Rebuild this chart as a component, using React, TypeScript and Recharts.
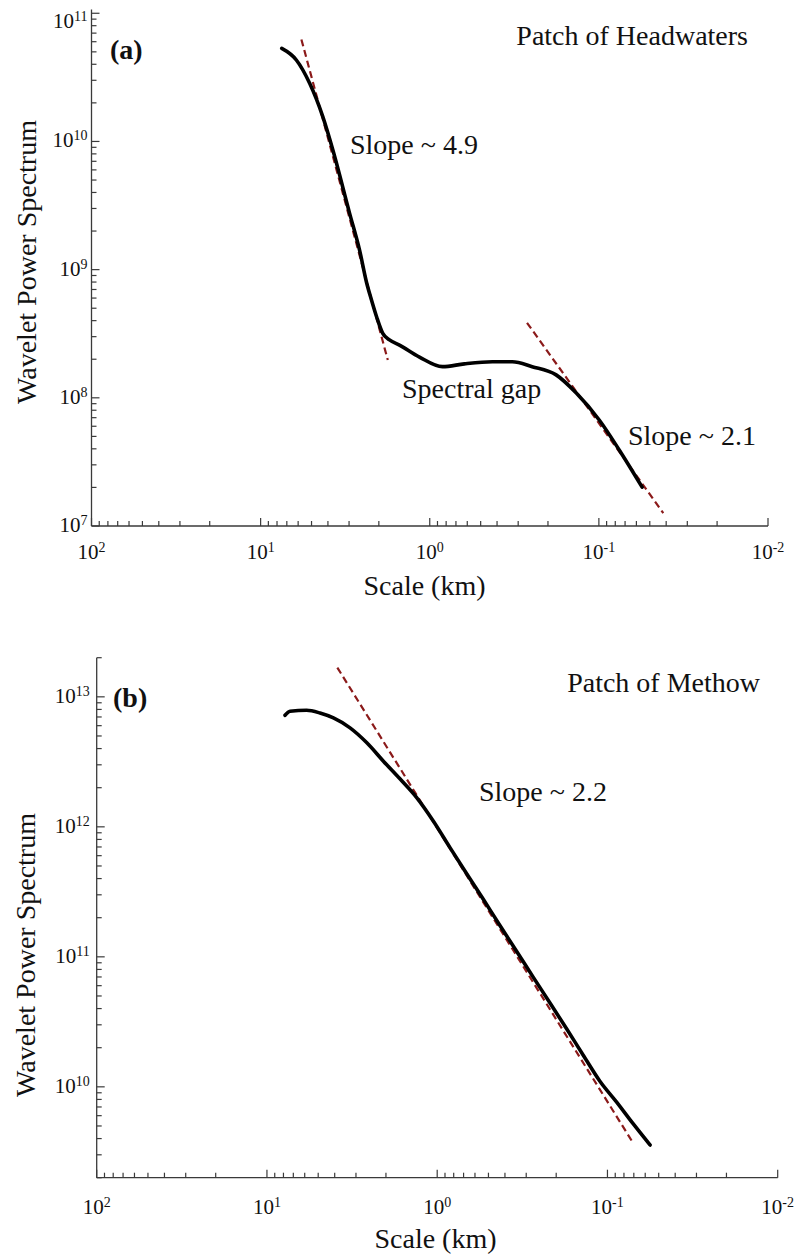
import React from 'react';
import { ComposedChart, Line, XAxis, YAxis } from 'recharts';

const FONT = "'Liberation Serif', 'Times New Roman', 'DejaVu Serif', serif";
const INK = '#111';
const FRAME = '#3a3a3a';
const FIT = '#8b1a1a';

// panel (a): Patch of Headwaters
const scaleA = [7.5, 6.15, 5.13, 4.29, 3.74, 2.98, 2.6, 2.36, 2.21, 2.06, 1.9, 1.73, 1.51, 1.15, 0.841, 0.624, 0.426, 0.325, 0.248, 0.179, 0.136, 0.0995, 0.0758, 0.0555];
const powerA = [5.32e10, 4.32e10, 2.84e10, 1.56e10, 8.57e9, 2.76e9, 1.42e9, 7.87e8, 5.79e8, 4.27e8, 3.2e8, 2.83e8, 2.58e8, 2.08e8, 1.75e8, 1.84e8, 1.91e8, 1.91e8, 1.75e8, 1.51e8, 1.09e8, 6.71e7, 3.92e7, 2.01e7];
const fitA1Scale = [5.74, 1.77];
const fitA1Power = [6.25e10, 1.97e8];
const fitA2Scale = [0.266, 0.0416];
const fitA2Power = [3.85e8, 1.26e7];

// panel (b): Patch of Methow
const scaleB = [7.83, 7.32, 5.85, 4.88, 4.07, 3.25, 2.59, 2.07, 1.65, 1.32, 1.05, 0.841, 0.671, 0.536, 0.428, 0.341, 0.273, 0.217, 0.173, 0.139, 0.111, 0.0883, 0.0705, 0.0562];
const powerB = [7.21e12, 7.74e12, 7.88e12, 7.51e12, 6.88e12, 5.77e12, 4.43e12, 3.2e12, 2.33e12, 1.68e12, 1.1e12, 6.92e11, 4.36e11, 2.77e11, 1.74e11, 1.1e11, 6.98e10, 4.4e10, 2.77e10, 1.76e10, 1.11e10, 7.63e9, 5.18e9, 3.57e9];
const fitBScale = [3.86, 0.0714];
const fitBPower = [1.68e13, 3.78e9];

// axes
const xDecades = [100, 10, 1, 0.1, 0.01];
const xDecadeExp = ['2', '1', '0', '-1', '-2'];
const yDecadesA = [1e7, 1e8, 1e9, 1e10, 1e11];
const yDecadeExpA = ['7', '8', '9', '10', '11'];
const yDecadesB = [1e9, 1e10, 1e11, 1e12, 1e13];
const yDecadeExpB = ['9', '10', '11', '12', '13'];
const minorSteps = [2, 3, 4, 5, 6, 7, 8, 9];

const zip = (xs: number[], ys: number[]) => xs.map((x, i) => ({ x, y: ys[i] }));

const withMinors = (decades: number[], lo: number, hi: number) => {
  const out: number[] = [];
  decades.forEach(d => {
    out.push(d);
    minorSteps.forEach(m => out.push(d * m));
  });
  return out.filter(v => v >= lo * 0.999 && v <= hi * 1.001).sort((a, b) => a - b);
};

const labelFor = (v: number, decades: number[], exps: string[]) => {
  const i = decades.findIndex(d => Math.abs(d - v) / d < 1e-6);
  return i < 0 ? null : exps[i];
};

const XTick = (props: any) => {
  const { x, y, payload, side, labelDy } = props;
  const exp = labelFor(payload.value, xDecades, xDecadeExp);
  const len = exp ? 8 : 5;
  const dir = side === 'bottom' ? -1 : 1;
  return (
    <g>
      <line x1={x} x2={x} y1={y} y2={y + dir * len} stroke={FRAME} strokeWidth={1.2} />
      {exp && side === 'bottom' && (
        <text x={x} y={y + labelDy} textAnchor="middle" fontFamily={FONT} fontSize={21} fill={INK}>
          10<tspan dy={-7} fontSize={14}>{exp}</tspan>
        </text>
      )}
    </g>
  );
};

const YTick = (props: any) => {
  const { x, y, payload, side, decades, exps, gap, plotTop } = props;
  const exp = labelFor(payload.value, decades, exps);
  const len = exp ? 8 : 5;
  const dir = side === 'left' ? 1 : -1;
  const ty = Math.max(y, plotTop + 12) + 6;
  return (
    <g>
      <line x1={x} x2={x + dir * len} y1={y} y2={y} stroke={FRAME} strokeWidth={1.2} />
      {exp && side === 'left' && (
        <text x={x - gap} y={ty} textAnchor="end" fontFamily={FONT} fontSize={21} fill={INK}>
          10<tspan dy={-7} fontSize={14}>{exp}</tspan>
        </text>
      )}
    </g>
  );
};

const Panel = (props: any) => {
  const { top, width, height, plotLeft, plotTop, plotRight, plotBottom, yDomain, decades, exps, xLabelDy, yGap, curve, fits } = props;
  const xTicks = withMinors(xDecades, 0.01, 100);
  const yTicks = withMinors(decades, yDomain[0], yDomain[1]);
  const axisLine = { stroke: FRAME, strokeWidth: 1.3 };
  return (
    <div style={{ position: 'absolute', left: 0, top }}>
      <ComposedChart
        width={width}
        height={height}
        margin={{ top: plotTop, right: width - plotRight, bottom: 0, left: 0 }}
      >
        <XAxis
          dataKey="x" type="number" scale="log" domain={[0.01, 100]} reversed allowDataOverflow
          ticks={xTicks} interval={0} tickSize={0} tickMargin={0} height={height - plotBottom}
          axisLine={axisLine} tick={(p: any) => <XTick {...p} side="bottom" labelDy={xLabelDy} />}
        />
        <XAxis
          xAxisId="top" orientation="top" type="number" scale="log" domain={[0.01, 100]} reversed allowDataOverflow
          ticks={xTicks} interval={0} tickSize={0} tickMargin={0} height={0}
          axisLine={axisLine} tick={(p: any) => <XTick {...p} side="top" />}
        />
        <YAxis
          type="number" scale="log" domain={yDomain} allowDataOverflow
          ticks={yTicks} interval={0} tickSize={0} tickMargin={0} width={plotLeft}
          axisLine={axisLine}
          tick={(p: any) => <YTick {...p} side="left" decades={decades} exps={exps} gap={yGap} plotTop={plotTop} />}
        />
        <YAxis
          yAxisId="right" orientation="right" type="number" scale="log" domain={yDomain} allowDataOverflow
          ticks={yTicks} interval={0} tickSize={0} tickMargin={0} width={0}
          axisLine={axisLine}
          tick={(p: any) => <YTick {...p} side="right" decades={decades} exps={exps} gap={yGap} plotTop={plotTop} />}
        />
        {fits.map((f: any, i: number) => (
          <Line key={i} data={f} dataKey="y" type="linear" stroke={FIT} strokeWidth={2.2}
            strokeDasharray="7 4" dot={false} isAnimationActive={false} />
        ))}
        <Line data={curve} dataKey="y" type="monotone" stroke="#000" strokeWidth={3.6}
          strokeLinecap="round" dot={false} isAnimationActive={false} />
      </ComposedChart>
    </div>
  );
};

const txt = { fontFamily: FONT, fontSize: 28, fill: INK } as const;

export default function App() {
  return (
    <div style={{ position: 'absolute', left: 0, top: 0, width: 798, height: 1257, background: '#fff' }}>
      <Panel
        top={0} width={798} height={620}
        plotLeft={91.5} plotTop={9.5} plotRight={768} plotBottom={526}
        yDomain={[1e7, 1.07e11]} decades={yDecadesA} exps={yDecadeExpA}
        xLabelDy={33} yGap={4}
        curve={zip(scaleA, powerA)}
        fits={[zip(fitA1Scale, fitA1Power), zip(fitA2Scale, fitA2Power)]}
      />
      <Panel
        top={630} width={798} height={627}
        plotLeft={96.7} plotTop={27.7} plotRight={777.7} plotBottom={547.7}
        yDomain={[2e9, 2e13]} decades={yDecadesB} exps={yDecadeExpB}
        xLabelDy={36} yGap={7}
        curve={zip(scaleB, powerB)}
        fits={[zip(fitBScale, fitBPower)]}
      />
      <svg width={798} height={1257} style={{ position: 'absolute', left: 0, top: 0, pointerEvents: 'none' }}>
        <text x={110} y={59} {...txt} fontWeight="bold">(a)</text>
        <text x={748} y={45} {...txt} textAnchor="end">Patch of Headwaters</text>
        <text x={350} y={154} {...txt}>Slope ~ 4.9</text>
        <text x={402} y={398} {...txt}>Spectral gap</text>
        <text x={628} y={445} {...txt}>Slope ~ 2.1</text>
        <text x={424.5} y={595} {...txt} textAnchor="middle">Scale (km)</text>
        <text transform="translate(36,262) rotate(-90)" {...txt} textAnchor="middle">Wavelet Power Spectrum</text>

        <text x={113} y={707} {...txt} fontWeight="bold">(b)</text>
        <text x={760} y={692} {...txt} textAnchor="end">Patch of Methow</text>
        <text x={479} y={801} {...txt}>Slope ~ 2.2</text>
        <text x={435.5} y={1248} {...txt} textAnchor="middle">Scale (km)</text>
        <text transform="translate(35,955) rotate(-90)" {...txt} textAnchor="middle">Wavelet Power Spectrum</text>
      </svg>
    </div>
  );
}
